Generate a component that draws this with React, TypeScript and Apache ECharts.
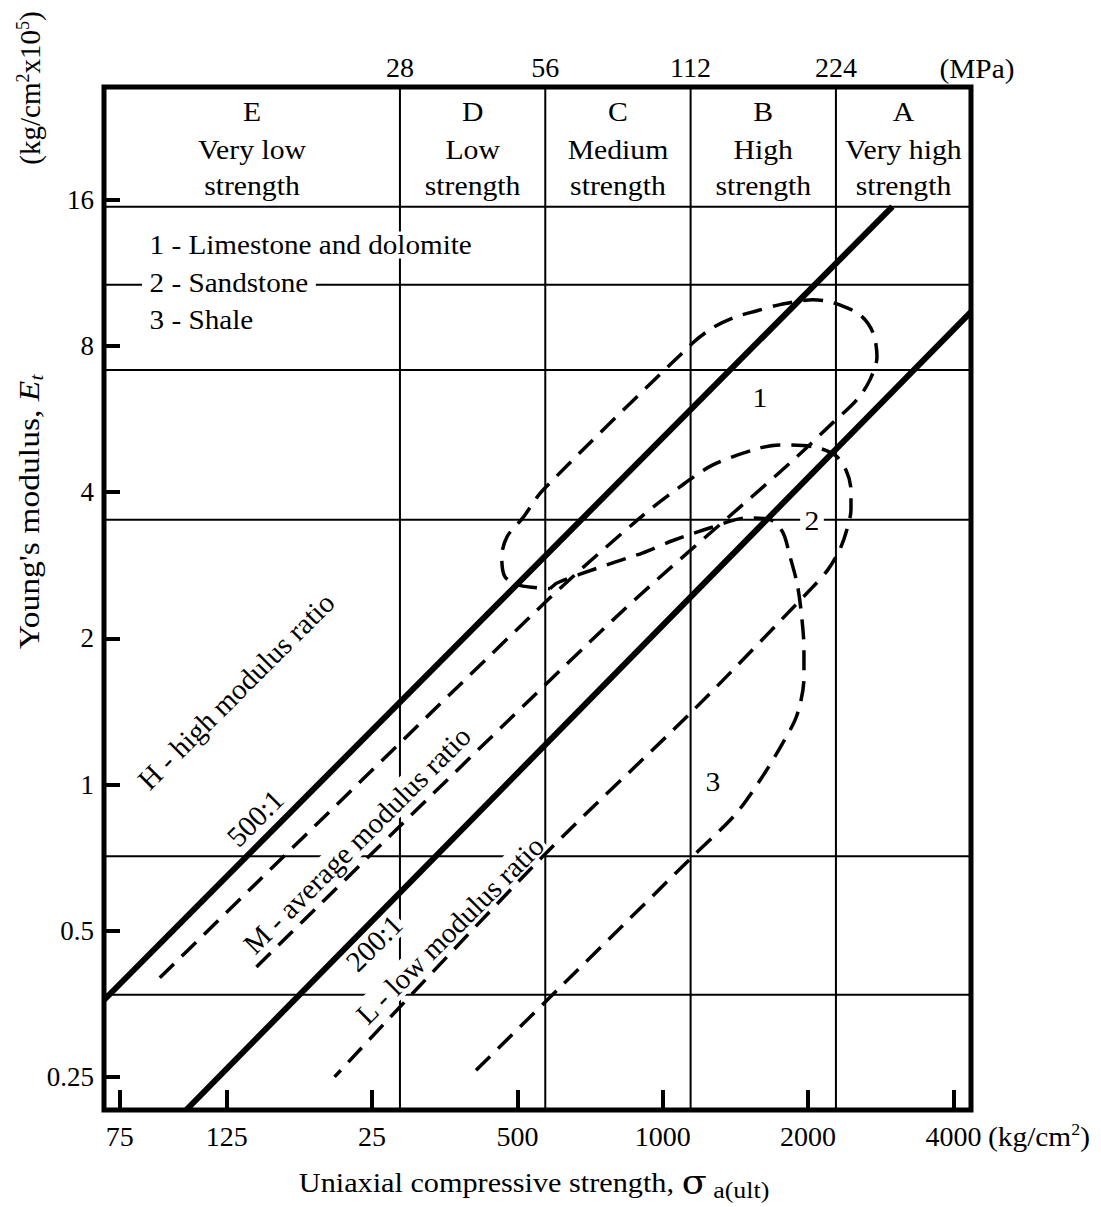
import React, { useEffect, useRef } from "react";
import * as echarts from "echarts";

const W = 1101;
const H = 1207;

// ---- axis data ----
const xRange = [69.6, 4350]; // kg/cm2 at left / right frame
const yRange = [0.2137, 27.3]; // E (kg/cm2 x 10^5) at bottom / top frame
const xTickValues = [75, 125, 250, 500, 1000, 2000, 4000];
const xTickLabels = ["75", "125", "25", "500", "1000", "2000", "4000"];
const yTickValues = [0.25, 0.5, 1, 2, 4, 8, 16];
const yTickLabels = ["0.25", "0.5", "1", "2", "4", "8", "16"];
const mpaBoundaries = [28, 56, 112, 224];
const mpaLabels = ["28", "56", "112", "224"];
const KG_PER_MPA = 10.197;
const eGridLines = [15.48, 10.69, 7.14, 3.51, 0.712, 0.369];

// ---- strength classes ----
const classCodes = ["E", "D", "C", "B", "A"];
const classNames = [
  ["Very low", "strength"],
  ["Low", "strength"],
  ["Medium", "strength"],
  ["High", "strength"],
  ["Very high", "strength"],
];
const legendItems = ["1 - Limestone and dolomite", "2 - Sandstone", "3 - Shale"];

// ---- modulus ratio lines [sigma kg/cm2, E x10^5 kg/cm2] ----
const ratio500 = [
  [69.6, 0.36],
  [2990, 15.48],
];
const ratio200 = [
  [103, 0.2137],
  [4350, 9.4],
];

// ---- envelopes ----
const limestone = [
  [144, 0.421], [788, 2.18], [1834, 4.59], [2252, 5.56], [2525, 6.2], [2686, 6.81],
  [2778, 7.6], [2725, 8.52], [2561, 9.27], [2252, 9.82], [2047, 9.96], [1749, 9.73],
  [1567, 9.45], [1398, 9.14], [1270, 8.72], [1155, 8.12], [565, 4.04], [513, 3.54],
  [476, 3.24], [464, 2.95], [471, 2.68], [506, 2.57], [584, 2.53],
];
const sandstone = [
  [90.8, 0.4], [578, 2.4], [897, 3.54], [1085, 4.1], [1270, 4.55], [1567, 4.91],
  [1749, 5.0], [2047, 4.96], [2273, 4.77], [2396, 4.44], [2454, 4.04], [2454, 3.68],
  [2407, 3.35], [2328, 3.05], [2199, 2.77], [2037, 2.54], [1155, 1.42], [565, 0.712],
  [209, 0.25],
];
const shale = [
  [584, 2.53], [604, 2.6], [674, 2.71], [788, 2.86], [910, 3.0], [1050, 3.18],
  [1270, 3.39], [1494, 3.54], [1667, 3.51], [1774, 3.3], [1834, 2.95], [1897, 2.6],
  [1933, 2.29], [1961, 1.9], [1961, 1.66], [1897, 1.39], [1766, 1.21], [1590, 1.02],
  [1411, 0.866], [1155, 0.712], [400, 0.2515],
];

const FONT = "'Liberation Serif', 'Times New Roman', Times, serif";

export default function App() {
  const ref = useRef<HTMLDivElement>(null);

  useEffect(() => {
    const el = ref.current;
    if (!el) return;
    const chart = echarts.init(el, null, { renderer: "svg" });
    const lg = Math.log2;
    const xMin = lg(xRange[0]);
    const xMax = lg(xRange[1]);
    const yMin = lg(yRange[0]);
    const yMax = lg(yRange[1]);
    const xy = (pts: number[][]) => pts.map((p) => [lg(p[0]), lg(p[1])]);
    const nearest = (v: number, vals: number[], labels: string[]) => {
      let best = 0;
      let d = Infinity;
      vals.forEach((t, i) => {
        const dd = Math.abs(lg(t) - v);
        if (dd < d) {
          d = dd;
          best = i;
        }
      });
      return labels[best];
    };
    const mpaKg = mpaBoundaries.map((m) => m * KG_PER_MPA);

    const thin = {
      type: "line",
      symbol: "none",
      silent: true,
      z: 1,
      lineStyle: { color: "#000", width: 2 },
    };
    const gridSeries: any[] = [
      ...mpaKg.map((k) => ({ ...thin, data: [[lg(k), yMin], [lg(k), yMax]] })),
      ...eGridLines.map((e) => ({ ...thin, data: [[xMin, lg(e)], [xMax, lg(e)]] })),
    ];
    const solid = (name: string, pts: number[][]) => ({
      type: "line",
      name,
      data: xy(pts),
      symbol: "none",
      silent: true,
      z: 10,
      lineStyle: { color: "#000", width: 6 },
    });
    const dashed = (name: string, pts: number[][]) => ({
      type: "line",
      name,
      data: xy(pts),
      symbol: "none",
      smooth: 0.3,
      silent: true,
      z: 10,
      lineStyle: { color: "#000", width: 3.5, type: [20, 11] },
    });

    const labelStyle = { color: "#000", fontFamily: FONT };

    chart.setOption({
      animation: false,
      backgroundColor: "#fff",
      grid: {
        left: 104,
        right: W - 971,
        top: 87,
        bottom: H - 1110,
        show: true,
        borderColor: "#000",
        borderWidth: 5,
        containLabel: false,
      },
      xAxis: [
        {
          type: "value",
          min: xMin,
          max: xMax,
          position: "bottom",
          axisLine: { show: false, onZero: false },
          splitLine: { show: false },
          axisTick: {
            show: true,
            inside: true,
            length: 20,
            customValues: xTickValues.map(lg),
            lineStyle: { color: "#000", width: 4 },
          },
          axisLabel: {
            ...labelStyle,
            fontSize: 28,
            margin: 12,
            customValues: xTickValues.map(lg),
            formatter: (v: number) => nearest(v, xTickValues, xTickLabels),
          },
        },
        {
          type: "value",
          min: xMin,
          max: xMax,
          position: "top",
          axisLine: { show: false, onZero: false },
          splitLine: { show: false },
          axisTick: { show: false },
          axisLabel: {
            ...labelStyle,
            fontSize: 28,
            margin: 6,
            customValues: mpaKg.map(lg),
            formatter: (v: number) => nearest(v, mpaKg, mpaLabels),
          },
        },
      ],
      yAxis: {
        type: "value",
        min: yMin,
        max: yMax,
        axisLine: { show: false, onZero: false },
        splitLine: { show: false },
        axisTick: {
          show: true,
          inside: true,
          length: 16,
          customValues: yTickValues.map(lg),
          lineStyle: { color: "#000", width: 4 },
        },
        axisLabel: {
          ...labelStyle,
          fontSize: 27,
          margin: 10,
          customValues: yTickValues.map(lg),
          formatter: (v: number) => nearest(v, yTickValues, yTickLabels),
        },
      },
      series: [
        ...gridSeries,
        solid("500:1", ratio500),
        solid("200:1", ratio200),
        dashed("Limestone and dolomite", limestone),
        dashed("Sandstone", sandstone),
        dashed("Shale", shale),
      ],
    });

    const px = (v: number) => chart.convertToPixel({ xAxisIndex: 0 }, v) as number;

    const txt = (text: string, x: number, y: number, o: any = {}) => ({
      type: "text",
      x,
      y,
      z: 5,
      silent: true,
      rotation: o.rotation || 0,
      scaleX: o.scaleX ?? 1.1,
      style: {
        text,
        fill: "#000",
        fontFamily: FONT,
        fontSize: o.fontSize || 27,
        align: o.align || "center",
        verticalAlign: "middle",
        textAlign: o.align || "center",
        textVerticalAlign: "middle",
        backgroundColor: o.bg,
        padding: o.padding,
        rich: o.rich,
      },
    });

    const bounds = [xMin, ...mpaKg.map(lg), xMax];
    const elements: any[] = [];
    classCodes.forEach((c, i) => {
      const cx = px((bounds[i] + bounds[i + 1]) / 2);
      elements.push(txt(c, cx, 112));
      elements.push(txt(classNames[i][0], cx, 150));
      elements.push(txt(classNames[i][1], cx, 186));
    });
    const legendY = [245, 283, 320];
    legendItems.forEach((t, i) => {
      elements.push(txt(t, 142, legendY[i], { align: "left", bg: "#fff", padding: [0, 7], scaleX: 1.08 }));
    });
    elements.push(txt("1", 760, 398));
    elements.push(txt("2", 812, 521, { bg: "#fff", padding: [0, 4] }));
    elements.push(txt("3", 713, 782));

    const rot = Math.PI / 4;
    const rotOpts = { rotation: rot, fontSize: 29, scaleX: 1, bg: "#fff", padding: [0, 2] };
    elements.push(txt("H - high modulus ratio", 236, 691, rotOpts));
    elements.push(txt("500:1", 255, 818, rotOpts));
    elements.push(txt("M - average modulus ratio", 357, 840, rotOpts));
    elements.push(txt("200:1", 374, 943, rotOpts));
    elements.push(txt("L - low modulus ratio", 450, 930, rotOpts));

    elements.push(txt("(MPa)", 977, 68, { fontSize: 28, scaleX: 1.05 }));
    elements.push(
      txt("{a|(kg/cm}{s|2}{a|)}", 988, 1136, {
        align: "left",
        scaleX: 1.05,
        rich: {
          a: { fontFamily: FONT, fontSize: 28, fill: "#000", color: "#000", verticalAlign: "middle", lineHeight: 30 },
          s: { fontFamily: FONT, fontSize: 17, fill: "#000", color: "#000", verticalAlign: "top", lineHeight: 30 },
        },
      })
    );
    elements.push(
      txt("{a|(kg/cm}{s|2}{a|x10}{s|5}{a|)}", 30, 88, {
        rotation: Math.PI / 2,
        scaleX: 1,
        rich: {
          a: { fontFamily: FONT, fontSize: 29, fill: "#000", color: "#000", verticalAlign: "middle", lineHeight: 32 },
          s: { fontFamily: FONT, fontSize: 18, fill: "#000", color: "#000", verticalAlign: "top", lineHeight: 32 },
        },
      })
    );
    elements.push(
      txt("{a|Young's modulus, }{e|E}{t|t}", 29, 512, {
        rotation: Math.PI / 2,
        scaleX: 1.12,
        rich: {
          a: { fontFamily: FONT, fontSize: 30, fill: "#000", color: "#000", verticalAlign: "middle", lineHeight: 34 },
          e: { fontFamily: FONT, fontSize: 30, fontStyle: "italic", fill: "#000", color: "#000", verticalAlign: "middle", lineHeight: 34 },
          t: { fontFamily: FONT, fontSize: 19, fontStyle: "italic", fill: "#000", color: "#000", verticalAlign: "bottom", lineHeight: 34 },
        },
      })
    );
    elements.push(
      txt("{a|Uniaxial compressive strength, }{g|σ}{b| a(ult)}", 534, 1182, {
        scaleX: 1.08,
        rich: {
          a: { fontFamily: FONT, fontSize: 28, fill: "#000", color: "#000", verticalAlign: "middle", lineHeight: 40 },
          g: { fontFamily: "'DejaVu Serif', serif", fontSize: 34, fill: "#000", color: "#000", verticalAlign: "middle", lineHeight: 40 },
          b: { fontFamily: FONT, fontSize: 24, fill: "#000", color: "#000", verticalAlign: "bottom", lineHeight: 40 },
        },
      })
    );

    chart.setOption({ graphic: { elements } });

    return () => {
      chart.dispose();
    };
  }, []);

  return (
    <div
      ref={ref}
      style={{ position: "fixed", left: 0, top: 0, width: W, height: H, background: "#fff" }}
    />
  );
}
